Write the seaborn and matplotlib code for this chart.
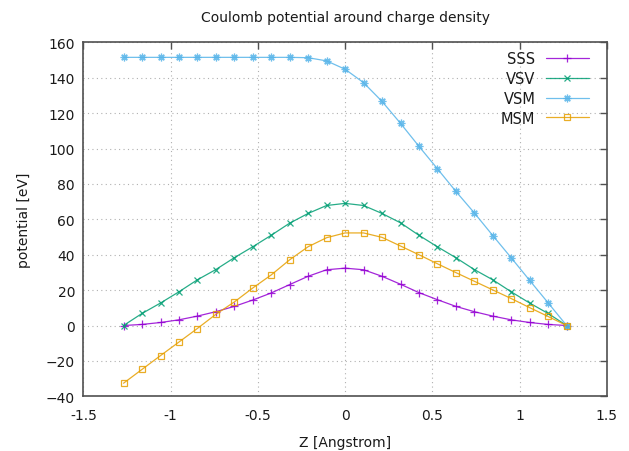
import matplotlib
matplotlib.use("Agg")
import matplotlib.pyplot as plt
import seaborn as sns
import numpy as np

# ---- data ----
z = [-1.270, -1.164, -1.058, -0.953, -0.847, -0.741, -0.635, -0.529, -0.423,
     -0.318, -0.212, -0.106, 0.000, 0.106, 0.212, 0.318, 0.423, 0.529,
     0.635, 0.741, 0.847, 0.953, 1.058, 1.164, 1.270]
sss = [0.0, 0.6, 1.7, 3.2, 5.3, 7.8, 10.8, 14.4, 18.4, 23.1, 27.8, 31.5, 32.4,
       31.5, 27.8, 23.3, 18.6, 14.6, 10.8, 7.8, 5.3, 3.2, 1.7, 0.6, 0.0]
vsv = [0.0, 6.8, 12.7, 19.0, 25.8, 31.6, 38.3, 44.5, 51.0, 57.8, 63.3, 67.8, 69.0,
       67.8, 63.3, 58.0, 51.0, 44.5, 38.3, 31.6, 25.8, 19.0, 12.7, 6.8, 0.0]
vsm = [151.5, 151.5, 151.5, 151.5, 151.5, 151.5, 151.5, 151.5, 151.5, 151.5,
       151.3, 149.5, 144.8, 137.2, 126.6, 114.2, 101.3, 88.6, 75.8, 63.6,
       50.8, 38.2, 25.5, 12.8, 0.0]
msm = [-32.6, -24.8, -17.0, -9.4, -1.7, 6.3, 13.3, 21.2, 28.6, 37.1, 44.5, 49.6, 52.3,
       52.3, 49.8, 44.9, 40.0, 34.9, 29.9, 25.0, 20.1, 15.2, 10.1, 5.1, 0.0]

series_names = ["SSS", "VSV", "VSM", "MSM"]
series_values = [sss, vsv, vsm, msm]
colors = ["#9400D3", "#009E73", "#56B4E9", "#E69F00"]
markers = ["+", "x", (8, 2, 0), "s"]
msizes = [5.5, 5, 5.5, 4.8]

xticks = [-1.5, -1, -0.5, 0, 0.5, 1, 1.5]
xticklabels = ["-1.5", "-1", "-0.5", "0", "0.5", "1", "1.5"]
yticks = [-40, -20, 0, 20, 40, 60, 80, 100, 120, 140, 160]

sns.set_theme(style="white")
plt.rcParams["font.family"] = ["DejaVu Sans"]

fig = plt.figure(figsize=(6.29, 4.52), dpi=100)
ax = fig.add_axes([0.1326, 0.121, 0.832, 0.7832])

for name, vals, c, m, ms in zip(series_names, series_values, colors, markers, msizes):
    mfc = "none" if m == "s" else c
    sns.lineplot(x=z, y=vals, ax=ax, color=c, marker=m, markersize=ms,
                 markerfacecolor=mfc, markeredgecolor=c, markeredgewidth=0.9,
                 linewidth=0.9, alpha=0.85, label=name, sort=False, estimator=None)

ax.set_xlim(-1.5, 1.5)
ax.set_ylim(-40, 160)
ax.set_xticks(xticks)
ax.set_xticklabels(xticklabels)
ax.set_yticks(yticks)

ax.grid(True, color="#b0b0b0", linestyle=(0, (1, 3)), linewidth=0.8)
ax.set_axisbelow(True)
for sp in ax.spines.values():
    sp.set_visible(True)
    sp.set_color("#505050")
    sp.set_linewidth(1.2)

ax.tick_params(axis="x", pad=8.5)
ax.tick_params(axis="y", pad=6)
ax.tick_params(axis="both", which="major", direction="in", length=5, width=1.0,
               color="#505050", labelsize=10, labelcolor="#1a1a1a",
               top=True, right=True)

ax.set_title("Coulomb potential around charge density", fontsize=10,
             color="#1a1a1a", pad=15.5)
ax.set_xlabel("Z [Angstrom]", fontsize=10, color="#1a1a1a", labelpad=9)
ax.set_ylabel("potential [eV]", fontsize=10, color="#1a1a1a", labelpad=11)

leg = ax.legend(loc="upper right", bbox_to_anchor=(0.9667, 0.975), frameon=False,
                markerfirst=False, fontsize=10.5, handlelength=3.0,
                handletextpad=0.7, labelspacing=0.33, borderaxespad=0, borderpad=0)
for t in leg.get_texts():
    t.set_color("#1a1a1a")

fig.savefig("out.png", dpi=100)
